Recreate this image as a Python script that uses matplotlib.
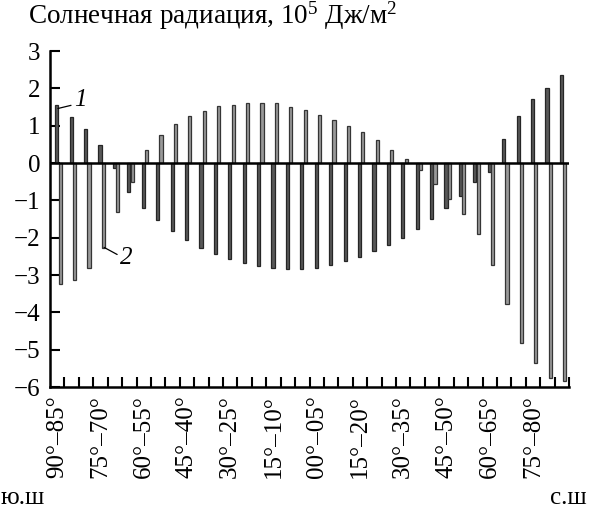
import matplotlib
matplotlib.use("Agg")
import matplotlib.pyplot as plt
import numpy as np

plt.rcParams['font.family'] = ['Liberation Serif', 'DejaVu Serif']
plt.rcParams['mathtext.fontset'] = 'custom'
plt.rcParams['mathtext.rm'] = 'Liberation Serif'
plt.rcParams['mathtext.it'] = 'Liberation Serif:italic'

# 36 latitude bands from 90-85 S to 85-90 N
tick_labels = ["90°–85°", "75°–70°", "60°–55°", "45°–40°", "30°–25°", "15°–10°",
               "00°–05°", "15°–20°", "30°–35°", "45°–50°", "60°–65°", "75°–80°"]
series1 = [1.56, 1.22, 0.92, 0.48, -0.13, -0.77, -1.20, -1.54, -1.82, -2.07, -2.28, -2.45,
           -2.58, -2.67, -2.76, -2.81, -2.84, -2.84, -2.81, -2.72, -2.63, -2.51, -2.36, -2.20,
           -2.01, -1.78, -1.49, -1.20, -0.89, -0.52, -0.25, 0.65, 1.25, 1.72, 2.02, 2.37]
series2 = [-3.23, -3.13, -2.81, -2.28, -1.32, -0.52, 0.36, 0.75, 1.04, 1.25, 1.40, 1.52,
           1.56, 1.60, 1.60, 1.60, 1.51, 1.42, 1.29, 1.16, 0.98, 0.83, 0.61, 0.36,
           0.11, -0.20, -0.55, -0.96, -1.36, -1.89, -2.72, -3.78, -4.82, -5.36, -5.76, -5.83]

n = len(series1)
idx = np.arange(n)

W, H = 591, 511
fig = plt.figure(figsize=(W/100, H/100), dpi=100)
ax = fig.add_axes([50/W, 1-387/H, (569-50)/W, (387-51)/H])

bw = 0.22
ax.bar(idx + 0.47, series1, width=bw, color='#585858', edgecolor='#262626', linewidth=0.9, zorder=2)
ax.bar(idx + 0.70, series2, width=bw, color='#999999', edgecolor='#353535', linewidth=0.9, zorder=2)

ax.axhline(0, color='black', linewidth=1.8, zorder=3)

ax.set_xlim(0, n)
ax.set_ylim(-6, 3)
ax.set_yticks(np.arange(-6, 4, 1))
ax.tick_params(axis='y', direction='in', length=7, width=1.5, labelsize=18, pad=7)

ax.set_xticks(np.arange(1, n + 1))
ax.set_xticklabels([])
ax.tick_params(axis='x', which='major', direction='in', length=7, width=1.5)
ax.set_xticks(np.arange(0, n, 3) + 0.5, minor=True)
ax.set_xticklabels(tick_labels, minor=True, rotation=90, fontsize=18)
ax.tick_params(axis='x', which='minor', length=0, pad=6)

for s in ['top', 'right']:
    ax.spines[s].set_visible(False)
for s in ['left', 'bottom']:
    ax.spines[s].set_linewidth(1.8)

# series labels
ax.annotate('1', xy=(0.55, series1[0] - 0.1), xytext=(1.65, 1.68), fontsize=18, style='italic',
            ha='left', va='center',
            arrowprops=dict(arrowstyle='-', color='black', lw=0.9, shrinkA=0, shrinkB=0,
                            relpos=(0, 0.3)))
ax.annotate('2', xy=(3.75, series2[3] + 0.02), xytext=(4.85, -2.55), fontsize=18, style='italic',
            ha='left', va='center',
            arrowprops=dict(arrowstyle='-', color='black', lw=0.9, shrinkA=0, shrinkB=0,
                            relpos=(0, 0.6)))

fig.text(28/W, 1-16/H, 'Солнечная радиация, 10$^{5}$ Дж/м$^{2}$', fontsize=19.5, ha='left', va='center')
fig.text(1/W, 1-498/H, 'ю.ш', fontsize=18, ha='left', va='center')
fig.text(587/W, 1-498/H, 'с.ш', fontsize=18, ha='right', va='center')

fig.savefig('out.png', dpi=100)
